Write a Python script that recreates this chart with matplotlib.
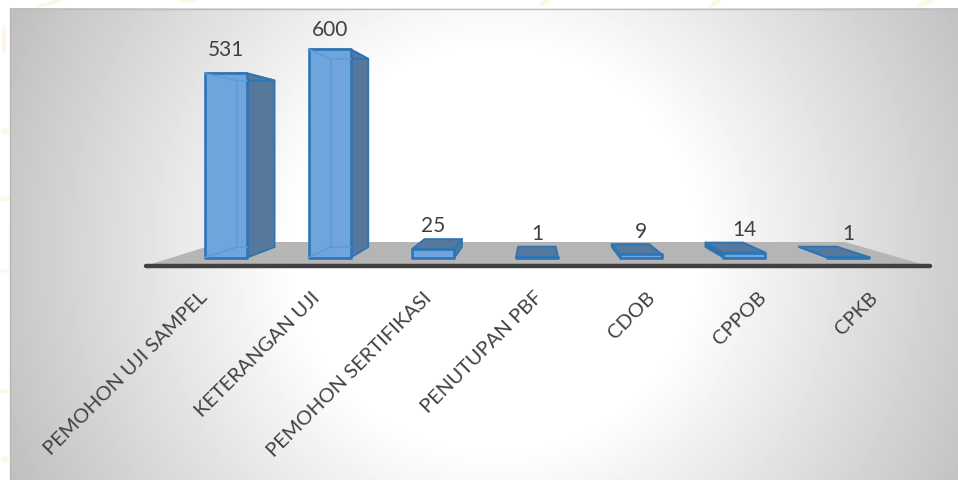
import numpy as np
import matplotlib
matplotlib.use("Agg")
import matplotlib.pyplot as plt
from matplotlib.patches import Polygon, Ellipse

# ── Data ──────────────────────────────────────────────────────────────────────
categories = ["PEMOHON UJI SAMPEL", "KETERANGAN UJI", "PEMOHON SERTIFIKASI",
              "PENUTUPAN PBF", "CDOB", "CPPOB", "CPKB"]
values = [531, 600, 25, 1, 9, 14, 1]

# ── Layout constants (pixels of the picture) ──────────────────────────────────
W, H = 958, 481
FRONT_X0, FRONT_STEP, FRONT_W = 205.0, 103.7, 42.0
BACK_X0, BACK_STEP, BACK_W = 237.0, 93.7, 37.5
FRONT_BASE, BACK_BASE = 258.5, 248.0
FRONT_SCALE, BACK_SCALE = 0.3467, 0.3135
LABEL_GAP = [18, 14, 18, 18, 17, 18, 18]

EDGE = "#2e75b6"
FRONT = "#6fa5dc"
SIDE = "#55789c"
INNER = "#5b9bd5"
TEXT = "#404040"

plt.rcParams["font.family"] = ["Lato", "DejaVu Sans"]

fig = plt.figure(figsize=(W / 100, H / 100), dpi=100, facecolor="white")
ax = fig.add_axes([0, 0, 1, 1])
ax.set_xlim(0, W)
ax.set_ylim(H, 0)
ax.axis("off")

# ── Faint yellow streaks of the slide behind the chart ────────────────────────
for (ex, ey, ew, eh, ang) in [(50, 4, 32, 4, -15), (187, 2, 20, 3, 0), (545, 3, 14, 5, -30),
                              (715, 4, 16, 5, -30), (925, 4, 20, 5, -20), (4, 40, 5, 30, 0),
                              (5, 132, 9, 6, 0), (5, 200, 9, 6, 0), (5, 272, 9, 4, 0),
                              (5, 392, 9, 5, 0), (5, 460, 8, 6, 0)]:
    ax.add_patch(Ellipse((ex, ey), ew, eh, angle=ang, color="#fdf8e6", lw=0, zorder=0))

# ── Grey radial background ────────────────────────────────────────────────────
xx, yy = np.meshgrid(np.arange(10, W), np.arange(9, H))
dist = np.hypot(xx - 495, yy - 250)
t = np.clip((dist - 200) / 335, 0, 1)
grey = 1 - t * 0.25
ax.imshow(grey, extent=(10, W, H, 9), cmap="gray", vmin=0, vmax=1,
          aspect="auto", interpolation="bilinear", zorder=1)
ax.set_xlim(0, W)
ax.set_ylim(H, 0)
ax.plot([10, 10], [9, H], color="#b8b8b8", lw=1, zorder=1.5)
ax.plot([10, W], [9.5, 9.5], color="#bdbdbd", lw=1, zorder=1.5)

# ── Floor ─────────────────────────────────────────────────────────────────────
ax.add_patch(Polygon([(222, 243), (845, 243), (925, 266), (148, 266)],
                     closed=True, facecolor="#b5b5b5", edgecolor="none", zorder=2))
ax.plot([146, 930], [267, 267], color=TEXT, lw=3.2, solid_capstyle="round", zorder=3)


def draw_bar(i, value):
    fl, fr = FRONT_X0 + FRONT_STEP * i, FRONT_X0 + FRONT_STEP * i + FRONT_W
    bl, br = BACK_X0 + BACK_STEP * i, BACK_X0 + BACK_STEP * i + BACK_W
    ft, bt = FRONT_BASE - value * FRONT_SCALE, BACK_BASE - value * BACK_SCALE

    def face(pts, color, lw=1.4):
        ax.add_patch(Polygon(pts, closed=True, facecolor=color, edgecolor=EDGE,
                             lw=lw, joinstyle="round", zorder=4))

    # back, sides, top, then front
    if br > fr:
        face([(fr, ft), (br, bt), (br, BACK_BASE), (fr, FRONT_BASE)], SIDE)
    if bl < fl:
        face([(fl, ft), (bl, bt), (bl, BACK_BASE), (fl, FRONT_BASE)], "#3f6a94")
    face([(fl, ft), (bl, bt), (br, bt), (fr, ft)], SIDE)
    face([(fl, ft), (fr, ft), (fr, FRONT_BASE), (fl, FRONT_BASE)], FRONT, lw=1.9)

    # back edges showing through the front face
    if value > 100:
        ax.plot([bl, bl], [bt, BACK_BASE], color=INNER, lw=1.1, zorder=5)
        ax.plot([fl, bl, fr], [ft, bt, bt], color=INNER, lw=1.1, zorder=5)
        ax.plot([fl, bl, fr], [FRONT_BASE, BACK_BASE, BACK_BASE], color=INNER, lw=1.1, zorder=5)

    ax.text((fl + fr) / 2, ft - LABEL_GAP[i], str(value), ha="center", va="baseline",
            fontsize=15, color=TEXT, zorder=6)


for i, v in enumerate(values):
    draw_bar(i, v)

# ── Category labels ───────────────────────────────────────────────────────────
for i, name in enumerate(categories):
    ax.text(199 + 111.7 * i, 289, name, rotation=45, rotation_mode="anchor",
            ha="right", va="top", fontsize=14.5, color=TEXT, zorder=6)

fig.savefig("out.png", dpi=100)
